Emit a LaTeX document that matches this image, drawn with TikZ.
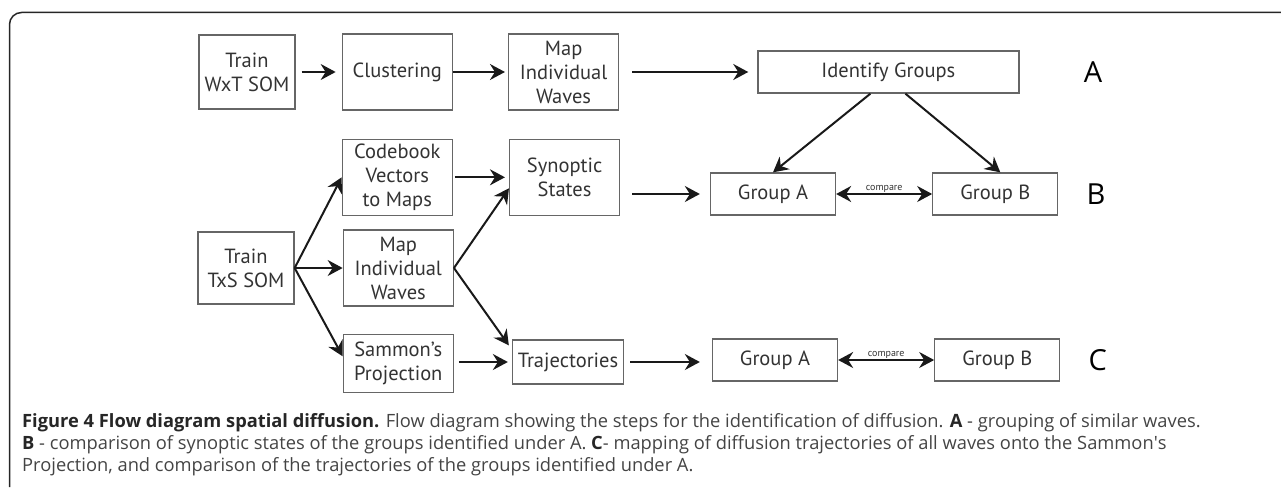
\documentclass[tikz,border=0pt]{standalone}
\usepackage{fontspec}
\setmainfont{Open Sans}
\newfontfamily\boxfont{PT Sans}
\usetikzlibrary{arrows.meta,positioning}
\definecolor{boxline}{HTML}{666666}
\definecolor{boxtext}{HTML}{333333}
\definecolor{captext}{HTML}{444444}

\begin{document}
\begin{tikzpicture}[
    x=1pt, y=-1pt,
    stage/.style={rectangle, draw=boxline, line width=1.3pt, minimum width=110pt, minimum height=76pt, inner sep=2pt, align=center, text=boxtext, font=\boxfont\fontsize{20.5}{24}\selectfont},
    som/.style={stage, minimum width=96pt, minimum height=74pt},
    group/.style={stage, minimum width=125pt, minimum height=42pt},
    rowlabel/.style={inner sep=0pt, text=black, font=\fontsize{29}{29}\selectfont},
    compare/.style={inner sep=1pt, text=boxtext, font=\boxfont\fontsize{10}{10}\selectfont},
    arrow/.style={-{Stealth[length=15pt,width=16pt,inset=5pt]}, line width=2pt, draw=black!90},
    twoway/.style={{Stealth[length=15pt,width=16pt,inset=5pt]}-{Stealth[length=15pt,width=16pt,inset=5pt]}, line width=2pt, draw=black!90},
    caption/.style={inner sep=0pt, anchor=north west, align=left, text=captext, font=\fontsize{18.3}{22}\selectfont}
]
\useasboundingbox (0,0) rectangle (1281,487);
\draw[line width=1.5pt, draw=black!85, rounded corners=12pt] (9.5,487) -- (9.5,12.5) -- (1281,12.5);

% row A
\node[som] (wxt) at (247,72) {Train\\WxT SOM};
\node[stage, right=46pt of wxt] (clust) {Clustering};
\node[stage, right=55pt of clust] (mapwaves) {Map\\Individual\\Waves};
\node[stage, right=138pt of mapwaves, minimum width=261pt, minimum height=42pt] (ident) {Identify Groups};
\node[rowlabel, right=64pt of ident] (labA) {A};

% row B
\node[stage, below=28pt of clust] (codebook) {Codebook\\Vectors\\to Maps};
\node[stage, right=56pt of codebook] (synoptic) {Synoptic\\States};
\node[group] (grpA) at (773,194) {Group A};
\node[group, right=96pt of grpA] (grpB) {Group B};
\node[rowlabel, right=28pt of grpB] (labB) {B};

% row C
\node[som, minimum height=72pt] (txs) at (246,268) {Train\\TxS SOM};
\node[stage, right=48pt of txs] (mapsingle) {Map\\Individual\\Waves};
\node[stage, minimum height=58pt, below=27pt of mapsingle] (sammon) {Sammon’s\\Projection};
\node[stage, minimum width=111pt, minimum height=44pt] (traj) at (568,362) {Trajectories};
\node[group] (grpAc) at (775,360) {Group A};
\node[group, right=96pt of grpAc] (grpBc) {Group B};
\node[rowlabel, right=28pt of grpBc] (labC) {C};

\draw[arrow, shorten <=6pt, shorten >=6pt] (wxt.east) -- (wxt.east -| clust.west);
\draw[arrow, shorten >=3pt] (clust) -- (mapwaves);
\draw[arrow, shorten <=13pt, shorten >=9pt] (mapwaves) -- (ident);
\draw[arrow] ([xshift=-18pt]ident.south) -- (grpA.north);
\draw[arrow] ([xshift=17pt]ident.south) -- ([xshift=5pt]grpB.north);
\draw[arrow, shorten <=2pt, shorten >=4pt] (codebook) -- (synoptic);
\draw[arrow, shorten <=12pt, shorten >=10pt] (synoptic.east |- grpA.west) -- (grpA.west);
\draw[twoway] (grpA) -- node[compare, above] {compare} (grpB);
\draw[arrow] (txs.east) -- (codebook.west);
\draw[arrow] (txs.east) -- (mapsingle.west);
\draw[arrow] (txs.east) -- ([yshift=7pt]sammon.west);
\draw[arrow] (mapsingle.east) -- ([yshift=-11pt]synoptic.west);
\draw[arrow] (mapsingle.east) -- ([xshift=-3pt,yshift=-6pt]traj.north west);
\draw[arrow, shorten <=5pt, shorten >=4pt] (sammon.east |- traj.west) -- (traj.west);
\draw[arrow, shorten <=6pt, shorten >=12pt] (traj.east) -- (traj.east -| grpAc.west);
\draw[twoway] (grpAc) -- node[compare, above] {compare} (grpBc);

\node[caption] (cap) at (22,413) {{\bfseries\color{black!85}Figure 4 Flow diagram spatial diffusion.} Flow diagram showing the steps for the identification of diffusion. {\bfseries\color{black!85}A} - grouping of similar waves.\\
{\bfseries\color{black!85}B} - comparison of synoptic states of the groups identified under A. {\bfseries\color{black!85}C}- mapping of diffusion trajectories of all waves onto the Sammon\textquotesingle s\\
Projection, and comparison of the trajectories of the groups identified under A.};
\end{tikzpicture}
\end{document}
